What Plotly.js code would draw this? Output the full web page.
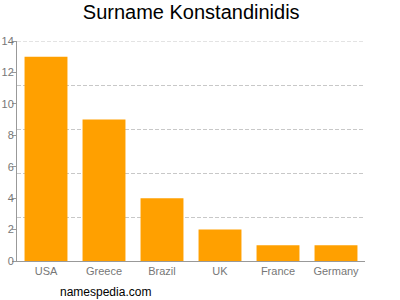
<!DOCTYPE html>
<html><head><meta charset="utf-8">
<script src="https://cdn.plot.ly/plotly-3.0.1.min.js"></script>
<style>body{margin:0;padding:0;background:#fff}#chart{width:400px;height:300px}</style>
</head><body><div id="chart"></div>
<script>
const countries = ["USA", "Greece", "Brazil", "UK", "France", "Germany"];
const counts = [13, 9, 4, 2, 1, 1];
const yTicks = [0, 2, 4, 6, 8, 10, 12, 14];
const gridLevels = [2.8, 5.6, 8.4, 11.2];
const yMax = 14;

const trace = {
  type: "bar", x: countries, y: counts,
  marker: {color: "#ffa000"}, hoverinfo: "none"
};
const grid2 = {
  type: "scatter", x: countries, y: counts, yaxis: "y2",
  mode: "none", showlegend: false, hoverinfo: "none"
};
const layout = {
  width: 400, height: 300,
  margin: {l: 17, r: 35, t: 41, b: 39},
  paper_bgcolor: "#fff", plot_bgcolor: "#fff",
  showlegend: false, bargap: 0.26,
  font: {family: "Liberation Sans, Arial, sans-serif", color: "#777", size: 11},
  title: {text: "Surname Konstandinidis", font: {size: 20, color: "#000"}, x: 0.478, xanchor: "center", y: 0.985, yanchor: "top"},
  xaxis: {showline: true, linecolor: "#999", linewidth: 1, ticks: "", showgrid: false,
          tickfont: {size: 11, color: "#777"}, fixedrange: true},
  yaxis: {range: [0, yMax], tickvals: yTicks, ticktext: yTicks.map(String), showgrid: false,
          showline: true, linecolor: "#999", ticks: "outside", ticklen: 4, tickcolor: "#999",
          ticklabelstandoff: -4,
          tickfont: {size: 11, color: "#777"}, zeroline: false, fixedrange: true},
  yaxis2: {overlaying: "y", range: [0, yMax], tickmode: "array", tickvals: gridLevels, showgrid: true,
           gridcolor: "#c8c8c8", griddash: "4px,2px", showticklabels: false, zeroline: false,
           side: "right", fixedrange: true},
  shapes: [{type: "line", xref: "paper", x0: 0, x1: 1, yref: "y", y0: yMax, y1: yMax,
            line: {color: "#c8c8c8", width: 1, dash: "4px,2px"}, layer: "below"}],
  annotations: [{text: "namespedia.com", xref: "paper", yref: "paper", x: 0.118, y: -0.141,
                 xanchor: "left", yanchor: "middle", showarrow: false,
                 font: {size: 12, color: "#000"}}]
};
Plotly.newPlot("chart", [grid2, trace], layout, {staticPlot: true});
</script></body></html>
